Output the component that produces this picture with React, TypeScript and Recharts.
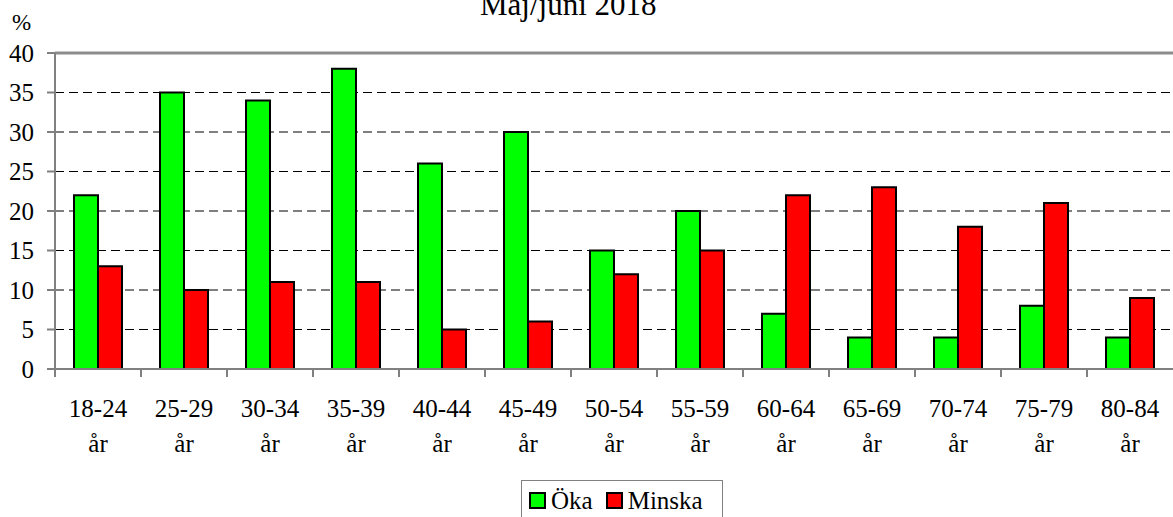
import { Bar, BarChart, CartesianGrid, ReferenceLine, XAxis, YAxis } from "recharts";

const categories = ["18-24", "25-29", "30-34", "35-39", "40-44", "45-49", "50-54", "55-59", "60-64", "65-69", "70-74", "75-79", "80-84"];
const okaValues = [22, 35, 34, 38, 26, 30, 15, 20, 7, 4, 4, 8, 4];
const minskaValues = [13, 10, 11, 11, 5, 6, 12, 15, 22, 23, 18, 21, 9];
const yTicks = [0, 5, 10, 15, 20, 25, 30, 35, 40];

const data = categories.map((age, i) => ({ age, oka: okaValues[i], minska: minskaValues[i] }));

const FONT = "Liberation Serif, Times New Roman, serif";
const BAND = 1118 / categories.length;

interface TickProps {
  x?: number;
  y?: number;
  payload?: { value: string };
}

function AgeTick({ x = 0, y = 0, payload }: TickProps) {
  const left = x - BAND / 2;
  return (
    <g>
      <line x1={left} x2={left} y1={369} y2={377} stroke="#808080" strokeWidth={2} />
      <text x={x} y={417} textAnchor="middle" fontSize={25} fontFamily={FONT} fill="#000">
        <tspan x={x}>{payload?.value}</tspan>
        <tspan x={x} dy={35}>år</tspan>
      </text>
    </g>
  );
}

function LegendBox() {
  const item = (color: string, label: string, gap: number) => (
    <span style={{ display: "inline-flex", alignItems: "center", marginRight: gap }}>
      <span
        style={{
          display: "inline-block",
          width: 13,
          height: 13,
          background: color,
          border: "2px solid #000",
          marginRight: 5,
        }}
      />
      {label}
    </span>
  );
  return (
    <div
      style={{
        position: "absolute",
        left: 521,
        top: 480,
        width: 202,
        height: 40,
        boxSizing: "border-box",
        display: "flex",
        alignItems: "center",
        border: "1px solid #808080",
        paddingLeft: 7,
        fontFamily: FONT,
        fontSize: 25,
        lineHeight: "25px",
        color: "#000",
        background: "#fff",
      }}
    >
      {item("#00ff00", "Öka", 13)}
      {item("#ff0000", "Minska", 0)}
    </div>
  );
}

export default function App() {
  return (
    <div style={{ position: "absolute", left: 0, top: 0, width: 1173, height: 517, background: "#fff", overflow: "hidden" }}>
      <BarChart
        width={1173}
        height={517}
        data={data}
        margin={{ top: 53, right: 0, bottom: 0, left: 0 }}
        barCategoryGap={19}
        barGap={0}
      >
        <CartesianGrid vertical={false} stroke="#000" strokeDasharray="9 5" />
        <ReferenceLine y={40} stroke="#8c8c8c" strokeWidth={3} />
        <XAxis
          dataKey="age"
          interval={0}
          height={148}
          stroke="#808080"
          strokeWidth={2}
          tickLine={false}
          tick={<AgeTick />}
        />
        <YAxis
          domain={[0, 40]}
          ticks={yTicks}
          width={55}
          stroke="#808080"
          strokeWidth={2}
          tickSize={8}
          tick={{ fill: "#000", fontSize: 25, fontFamily: FONT }}
          tickMargin={13}
        />
        <Bar dataKey="oka" name="Öka" fill="#00ff00" stroke="#000" strokeWidth={2} isAnimationActive={false} />
        <Bar dataKey="minska" name="Minska" fill="#ff0000" stroke="#000" strokeWidth={2} isAnimationActive={false} />
      </BarChart>
      <div style={{ position: "absolute", left: 480, top: -10, fontFamily: FONT, fontSize: 31, lineHeight: "30px", whiteSpace: "nowrap" }}>
        Maj/juni 2018
      </div>
      <div style={{ position: "absolute", left: 12, top: 11, fontFamily: FONT, fontSize: 23, lineHeight: "23px" }}>%</div>
      <LegendBox />
    </div>
  );
}
